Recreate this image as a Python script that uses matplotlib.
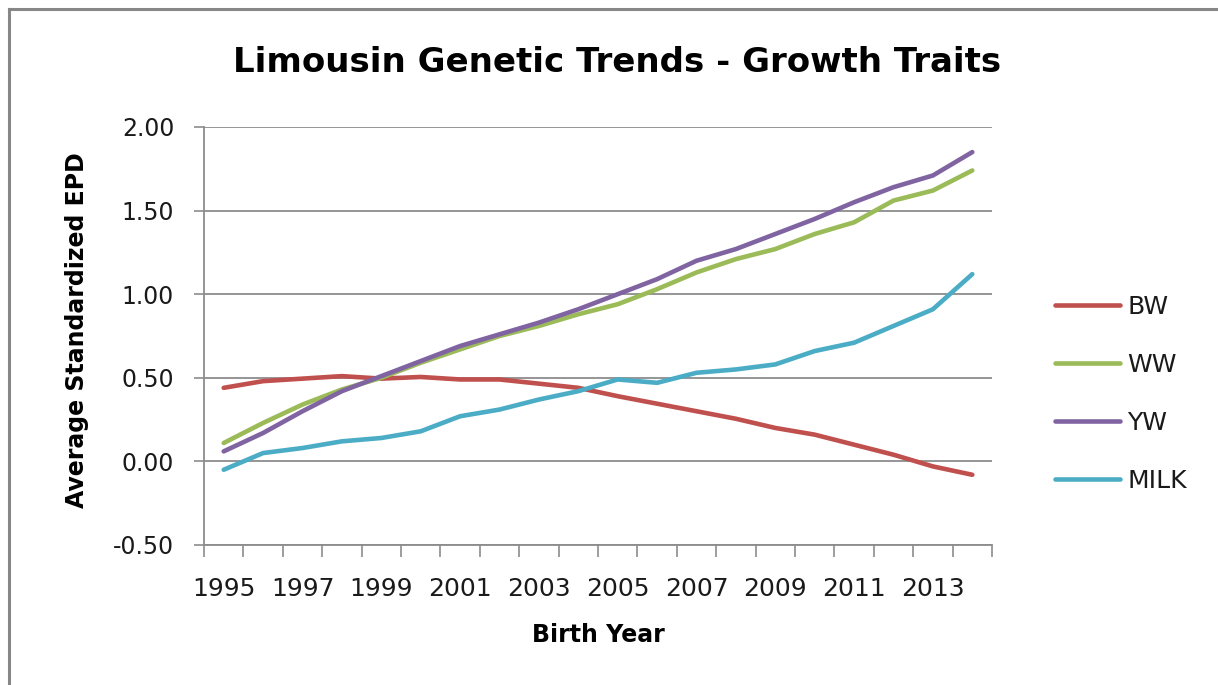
import numpy as np
import matplotlib
matplotlib.use('Agg')
import matplotlib.pyplot as plt
from matplotlib.lines import Line2D
from matplotlib.ticker import FixedLocator, NullFormatter

# --- Data ---
years = list(range(1995, 2015))
bw = [0.44, 0.48, 0.495, 0.51, 0.495, 0.505, 0.49, 0.49, 0.465, 0.44,
      0.39, 0.345, 0.30, 0.255, 0.20, 0.16, 0.10, 0.04, -0.03, -0.08]
ww = [0.11, 0.23, 0.34, 0.43, 0.50, 0.59, 0.67, 0.75, 0.81, 0.88,
      0.94, 1.03, 1.13, 1.21, 1.27, 1.36, 1.43, 1.56, 1.62, 1.74]
yw = [0.06, 0.17, 0.30, 0.42, 0.51, 0.60, 0.69, 0.76, 0.83, 0.91,
      1.00, 1.09, 1.20, 1.27, 1.36, 1.45, 1.55, 1.64, 1.71, 1.85]
milk = [-0.05, 0.05, 0.08, 0.12, 0.14, 0.18, 0.27, 0.31, 0.37, 0.42,
        0.49, 0.47, 0.53, 0.55, 0.58, 0.66, 0.71, 0.81, 0.91, 1.12]
series_names = ['BW', 'WW', 'YW', 'MILK']
series_colors = ['#C0504D', '#9BBB59', '#8064A2', '#4BACC6']
y_ticks = [-0.5, 0.0, 0.5, 1.0, 1.5, 2.0]

GRID = '#8C8C8C'
plt.rcParams['font.family'] = ['DejaVu Sans']

W, H = 1218, 685
fig = plt.figure(figsize=(W / 100, H / 100), dpi=100)

# outer chart frame: only top and left edges are inside the picture
fx, fy = 9 / W, 1 - 9 / H
fig.lines.append(Line2D([fx, 1.0], [fy, fy], transform=fig.transFigure,
                        color='#878787', lw=2.2))
fig.lines.append(Line2D([fx, fx], [0.0, fy], transform=fig.transFigure,
                        color='#878787', lw=2.2))

ax = fig.add_axes([204 / W, 1 - 545 / H, (992 - 204) / W, (545 - 127) / H])

x = np.arange(len(years))
for vals, name, col in zip([bw, ww, yw, milk], series_names, series_colors):
    ax.plot(x, vals, color=col, lw=3.3, label=name, solid_capstyle='round')

ax.set_xlim(-0.5, len(years) - 0.5)
ax.set_ylim(-0.5, 2.0)

# category axis: tick marks between categories, labels every other year
ax.xaxis.set_major_locator(FixedLocator(np.arange(-0.5, len(years), 1.0)))
ax.xaxis.set_major_formatter(NullFormatter())
ax.xaxis.set_minor_locator(FixedLocator(x[::2]))
ax.set_xticklabels([str(y) for y in years[::2]], minor=True)
ax.tick_params(axis='x', which='major', direction='out', length=8.5,
               width=1.2, color=GRID)
ax.tick_params(axis='x', which='minor', length=0, pad=23, labelsize=18,
               labelcolor='#1a1a1a')

ax.set_yticks(y_ticks)
ax.set_yticklabels([f'{v:.2f}' for v in y_ticks])
ax.tick_params(axis='y', direction='out', length=7.5, width=1.2, color=GRID,
               pad=14, labelsize=17, labelcolor='#1a1a1a')

ax.grid(axis='y', color=GRID, lw=1.3)
ax.set_axisbelow(True)
for s in ['top', 'right']:
    ax.spines[s].set_visible(False)
for s in ['left', 'bottom']:
    ax.spines[s].set_color(GRID)
    ax.spines[s].set_linewidth(1.3)

fig.text(617 / W, 1 - 63 / H, 'Limousin Genetic Trends - Growth Traits',
         ha='center', va='center', fontsize=24.5, fontweight='bold')
fig.text(598 / W, 1 - 635 / H, 'Birth Year', ha='center', va='center',
         fontsize=17, fontweight='bold')
fig.text(77 / W, 1 - 330 / H, 'Average Standardized EPD', ha='center',
         va='center', rotation=90, fontsize=17, fontweight='bold')

leg = ax.legend(loc='upper left', bbox_to_anchor=(1032 / W, 1 - 272 / H),
                bbox_transform=fig.transFigure, frameon=False, fontsize=18,
                handlelength=2.6, handletextpad=0.3, labelspacing=1.36)
for t in leg.get_texts():
    t.set_color('#1a1a1a')

fig.savefig('out.png', dpi=100)
